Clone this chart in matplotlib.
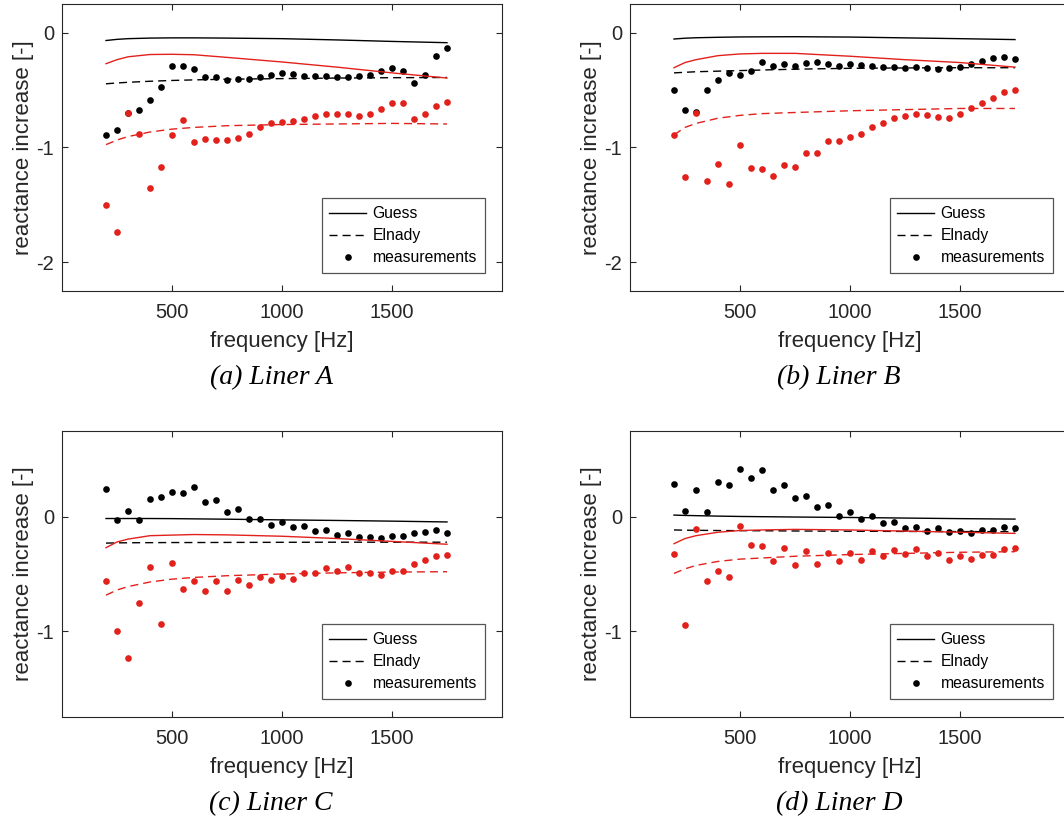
import numpy as np
import matplotlib.pyplot as plt

plt.rcParams['font.family'] = 'Liberation Sans'
plt.rcParams['axes.unicode_minus'] = False
plt.rcParams['lines.scale_dashes'] = False

# measurement frequencies [Hz]
freq = [200, 250, 300, 350, 400, 450, 500, 550, 600, 650, 700, 750, 800, 850, 900, 950,
        1000, 1050, 1100, 1150, 1200, 1250, 1300, 1350, 1400, 1450, 1500, 1550, 1600, 1650, 1700, 1750]
# frequencies where the model curves are sampled
line_freq = [200, 250, 300, 400, 500, 600, 750, 1000, 1250, 1500, 1750]

# Liner A
meas_black_A = [-0.89, -0.85, -0.70, -0.67, -0.59, -0.47, -0.29, -0.29, -0.315, -0.385, -0.39, -0.41,
                -0.40, -0.405, -0.385, -0.365, -0.35, -0.36, -0.375, -0.38, -0.38, -0.39, -0.39, -0.38,
                -0.365, -0.33, -0.31, -0.33, -0.44, -0.365, -0.20, -0.135]
meas_red_A = [-1.50, -1.735, -0.70, -0.885, -1.35, -1.17, -0.89, -0.76, -0.955, -0.93, -0.935, -0.935,
              -0.915, -0.88, -0.825, -0.79, -0.78, -0.765, -0.75, -0.725, -0.71, -0.705, -0.71, -0.725,
              -0.71, -0.665, -0.61, -0.615, -0.75, -0.71, -0.64, -0.605]
guess_black_A = [-0.068, -0.058, -0.052, -0.047, -0.045, -0.045, -0.047, -0.052, -0.063, -0.076, -0.087]
guess_red_A = [-0.27, -0.235, -0.21, -0.19, -0.188, -0.192, -0.215, -0.255, -0.30, -0.35, -0.395]
elnady_black_A = [-0.445, -0.438, -0.432, -0.423, -0.416, -0.411, -0.405, -0.40, -0.395, -0.392, -0.39]
elnady_red_A = [-0.975, -0.935, -0.905, -0.865, -0.84, -0.825, -0.81, -0.80, -0.795, -0.79, -0.795]

# Liner B
meas_black_B = [-0.495, -0.675, -0.69, -0.495, -0.415, -0.35, -0.37, -0.335, -0.255, -0.29, -0.275, -0.29,
                -0.26, -0.255, -0.27, -0.29, -0.275, -0.285, -0.29, -0.30, -0.30, -0.305, -0.30, -0.305,
                -0.32, -0.305, -0.30, -0.27, -0.25, -0.22, -0.21, -0.225]
meas_red_B = [-0.895, -1.26, -0.70, -1.295, -1.14, -1.32, -0.98, -1.18, -1.19, -1.25, -1.15, -1.17,
              -1.045, -1.05, -0.945, -0.94, -0.905, -0.885, -0.82, -0.79, -0.74, -0.725, -0.705, -0.715,
              -0.735, -0.74, -0.705, -0.66, -0.61, -0.57, -0.52, -0.495]
guess_black_B = [-0.055, -0.048, -0.044, -0.04, -0.037, -0.036, -0.035, -0.038, -0.045, -0.052, -0.06]
guess_red_B = [-0.305, -0.26, -0.235, -0.20, -0.185, -0.18, -0.18, -0.205, -0.235, -0.26, -0.30]
elnady_black_B = [-0.35, -0.345, -0.34, -0.335, -0.33, -0.325, -0.318, -0.31, -0.307, -0.305, -0.305]
elnady_red_B = [-0.89, -0.825, -0.79, -0.745, -0.72, -0.705, -0.695, -0.68, -0.67, -0.66, -0.66]

# Liner C
meas_black_C = [0.24, -0.025, 0.05, -0.025, 0.155, 0.17, 0.22, 0.21, 0.26, 0.13, 0.145, 0.045,
                0.065, -0.015, -0.02, -0.075, -0.045, -0.09, -0.08, -0.125, -0.115, -0.16, -0.145, -0.175,
                -0.18, -0.185, -0.165, -0.165, -0.14, -0.13, -0.115, -0.145]
meas_red_C = [-0.565, -1.0, -1.235, -0.75, -0.44, -0.94, -0.405, -0.63, -0.56, -0.645, -0.56, -0.65,
              -0.555, -0.595, -0.525, -0.55, -0.52, -0.545, -0.49, -0.495, -0.45, -0.475, -0.44, -0.495,
              -0.495, -0.51, -0.475, -0.47, -0.415, -0.38, -0.345, -0.33]
guess_black_C = [-0.015, -0.015, -0.015, -0.015, -0.016, -0.018, -0.021, -0.027, -0.032, -0.038, -0.045]
guess_red_C = [-0.27, -0.22, -0.195, -0.165, -0.16, -0.155, -0.158, -0.17, -0.19, -0.215, -0.24]
elnady_black_C = [-0.23, -0.228, -0.227, -0.226, -0.225, -0.225, -0.224, -0.223, -0.222, -0.222, -0.222]
elnady_red_C = [-0.685, -0.64, -0.61, -0.57, -0.545, -0.53, -0.515, -0.50, -0.49, -0.483, -0.48]

# Liner D
meas_black_D = [0.29, 0.055, 0.23, 0.04, 0.30, 0.28, 0.42, 0.335, 0.41, 0.23, 0.28, 0.16,
                0.185, 0.085, 0.105, 0.01, 0.045, -0.015, 0.005, -0.055, -0.045, -0.10, -0.085, -0.12,
                -0.10, -0.135, -0.12, -0.145, -0.115, -0.115, -0.085, -0.10]
meas_red_D = [-0.325, -0.945, -0.11, -0.565, -0.475, -0.525, -0.08, -0.25, -0.255, -0.385, -0.27, -0.42,
              -0.30, -0.41, -0.315, -0.385, -0.32, -0.375, -0.30, -0.34, -0.29, -0.325, -0.28, -0.345,
              -0.315, -0.375, -0.345, -0.37, -0.335, -0.33, -0.28, -0.275]
guess_black_D = [0.015, 0.012, 0.01, 0.006, 0.003, 0.001, -0.002, -0.006, -0.011, -0.016, -0.02]
guess_red_D = [-0.235, -0.19, -0.165, -0.135, -0.12, -0.115, -0.11, -0.115, -0.125, -0.135, -0.145]
elnady_black_D = [-0.115, -0.117, -0.118, -0.12, -0.121, -0.122, -0.124, -0.126, -0.128, -0.129, -0.13]
elnady_red_D = [-0.495, -0.455, -0.425, -0.39, -0.37, -0.36, -0.345, -0.33, -0.32, -0.31, -0.305]

panels = [
    ('(a) Liner A', meas_black_A, meas_red_A, guess_black_A, guess_red_A, elnady_black_A, elnady_red_A, (-2.25, 0.25), [-2, -1, 0]),
    ('(b) Liner B', meas_black_B, meas_red_B, guess_black_B, guess_red_B, elnady_black_B, elnady_red_B, (-2.25, 0.25), [-2, -1, 0]),
    ('(c) Liner C', meas_black_C, meas_red_C, guess_black_C, guess_red_C, elnady_black_C, elnady_red_C, (-1.75, 0.75), [-1, 0]),
    ('(d) Liner D', meas_black_D, meas_red_D, guess_black_D, guess_red_D, elnady_black_D, elnady_red_D, (-1.75, 0.75), [-1, 0]),
]

# axes boxes in pixels (left, top, bottom) on a 1064x823 canvas
W, H = 1064, 823
boxes = [(62, 4, 291), (630, 4, 291), (62, 431, 717), (630, 431, 717)]
ax_w = 440

red = '#e2211c'
axcol = '#262626'
dash = (0, (5.8, 3.6))

fig = plt.figure(figsize=(W / 100, H / 100), dpi=100)

for (title, mb, mr, gb, gr, eb, er, ylim, yticks), (left, top, bottom) in zip(panels, boxes):
    ax = fig.add_axes([left / W, (H - bottom) / H, ax_w / W, (bottom - top) / H])
    h1, = ax.plot(line_freq, gb, color='k', lw=1.0)
    h2, = ax.plot(line_freq, eb, color='k', lw=1.0, linestyle=dash)
    h3, = ax.plot(freq, mb, 'o', color='k', ms=4.8, mew=0)
    ax.plot(line_freq, gr, color=red, lw=1.0)
    ax.plot(line_freq, er, color=red, lw=1.0, linestyle=dash)
    ax.plot(freq, mr, 'o', color=red, ms=4.8, mew=0)

    ax.set_xlim(0, 2000)
    ax.set_ylim(*ylim)
    ax.set_xticks([500, 1000, 1500])
    ax.set_yticks(yticks)
    ax.tick_params(direction='in', top=True, right=True, length=4.5, width=0.8,
                   labelsize=14.5, colors=axcol)
    ax.tick_params(axis='x', pad=8.5)
    ax.tick_params(axis='y', pad=5.5)
    for s in ax.spines.values():
        s.set_color(axcol)
        s.set_linewidth(0.8)

    hpx = bottom - top
    ax.text(0.5, -51 / hpx, 'frequency [Hz]', transform=ax.transAxes, ha='center', va='center',
            fontsize=16, color=axcol)
    ax.text(-39 / ax_w, 0.5, 'reactance increase [-]', transform=ax.transAxes, ha='center', va='center',
            rotation=90, fontsize=16, color=axcol)
    ax.text(-11 / ax_w + 0.5, -87 / hpx, title, transform=ax.transAxes, ha='center', va='center',
            fontsize=20, family='Liberation Serif', style='italic')

    leg = ax.legend([h1, h2, h3], ['Guess', 'Elnady', 'measurements'], loc='lower right',
                    bbox_to_anchor=(0.961, 0.062), borderaxespad=0, fontsize=11.3,
                    fancybox=False, framealpha=1, edgecolor='#555555', numpoints=1,
                    handlelength=2.3, handletextpad=0.45, labelspacing=0.45, borderpad=0.5)
    leg.get_frame().set_linewidth(0.9)

plt.savefig('out.png', dpi=100)
